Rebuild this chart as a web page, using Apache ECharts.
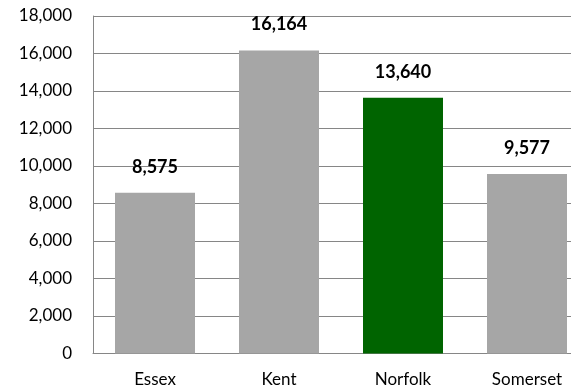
<!DOCTYPE html>
<html>
<head>
<meta charset="utf-8">
<script src="https://cdn.jsdelivr.net/npm/echarts@6/dist/echarts.min.js"></script>
<style>
  html, body { margin: 0; padding: 0; background: #fff; overflow: hidden; }
  #chart { width: 571px; height: 390px; }
</style>
</head>
<body>
<div id="chart"></div>
<script>
// County totals
const counties = ['Essex', 'Kent', 'Norfolk', 'Somerset'];
const totals = [8575, 16164, 13640, 9577];
const barColors = ['#A6A6A6', '#A6A6A6', '#006400', '#A6A6A6'];

const fontFamily = 'Lato, "Open Sans", sans-serif';
const fmt = v => Number(v).toLocaleString('en-US');

const chart = echarts.init(document.getElementById('chart'), null, { renderer: 'canvas' });
chart.setOption({
  animation: false,
  // plot area runs slightly past the right edge of the canvas
  grid: { left: 93, top: 16, width: 496, height: 337.5, containLabel: false, outerBoundsMode: 'none' },
  xAxis: {
    type: 'category',
    data: counties,
    axisLine: { lineStyle: { color: '#868686', width: 1 } },
    axisTick: { show: false },
    axisLabel: { color: '#000', fontFamily, fontSize: 17, margin: 18 }
  },
  yAxis: {
    type: 'value',
    min: 0,
    max: 18000,
    interval: 2000,
    axisLine: { show: true, lineStyle: { color: '#868686', width: 1 } },
    axisTick: { show: false },
    splitLine: { lineStyle: { color: '#868686', width: 1 } },
    axisLabel: { color: '#000', fontFamily, fontSize: 17, margin: 21, formatter: v => fmt(v) }
  },
  series: [{
    type: 'bar',
    data: totals.map((v, i) => ({ value: v, itemStyle: { color: barColors[i] } })),
    barWidth: 80,
    label: {
      show: true,
      position: 'top',
      distance: 17,
      color: '#000',
      fontFamily,
      fontWeight: 'bold',
      fontSize: 18,
      formatter: p => fmt(p.value)
    }
  }]
});
</script>
</body>
</html>
